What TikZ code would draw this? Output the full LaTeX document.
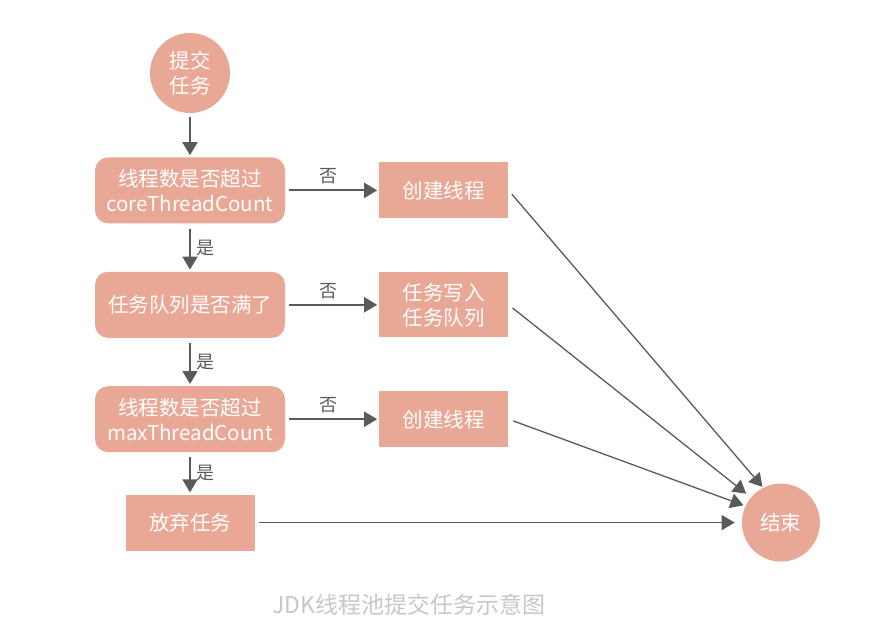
\documentclass[tikz,border=0pt]{standalone}
\usepackage{fontspec}
\usepackage{xcolor}
\usepackage{tikz}
\usetikzlibrary{arrows.meta,positioning}
\newfontfamily\cjk{Noto Sans CJK SC}
\definecolor{salmon}{RGB}{233,167,150}
\definecolor{arrowgray}{RGB}{90,90,90}

\begin{document}
\begin{tikzpicture}[x=1pt,y=-1pt,node distance=44pt and 94pt,
  every node/.style={font=\cjk\fontsize{20.5}{25}\selectfont,text=white},
  term/.style={circle,fill=salmon,minimum size=80pt,inner sep=0pt,align=center},
  cond/.style={fill=salmon,rounded corners=13pt,minimum width=190pt,minimum height=66pt,inner sep=2pt,align=center},
  act/.style={fill=salmon,minimum width=129pt,minimum height=56pt,inner sep=2pt,align=center},
  lbl/.style={text=arrowgray,font=\cjk\fontsize{18}{20}\selectfont},
  arr/.style={draw=arrowgray,line width=1.8pt,-{Triangle[length=13pt,width=15pt]}},
  fan/.style={draw=arrowgray,line width=1.3pt,-{Triangle[length=13pt,width=15pt]}}]
  \useasboundingbox (0,0) rectangle (877,628);
  \node[term] (start) at (190,73) {提交\\任务};
  \node[cond,below=of start] (core) {线程数是否超过\\coreThreadCount};
  \node[cond,below=48pt of core] (queue) {任务队列是否满了};
  \node[cond,below=48pt of queue] (max) {线程数是否超过\\maxThreadCount};
  \node[act,below=42pt of max] (reject) {放弃任务};
  \node[act,right=of core] (newcore) {创建线程};
  \node[act,minimum height=65pt,right=of queue] (enqueue) {任务写入\\任务队列};
  \node[act,right=of max] (newmax) {创建线程};
  \node[term,minimum size=78pt,right=487pt of reject] (end) {结束};
  \draw[arr,shorten <=4pt,shorten >=2pt] (start) -- (core);
  \draw[arr,shorten <=5pt,shorten >=2pt] (core) -- node[lbl,right,xshift=2pt] {是} (queue);
  \draw[arr,shorten <=5pt,shorten >=2pt] (queue) -- node[lbl,right,xshift=2pt] {是} (max);
  \draw[arr,shorten <=5pt,shorten >=2pt] (max) -- node[lbl,right,xshift=2pt] {是} (reject);
  \draw[arr,shorten <=4pt,shorten >=2pt] (core) -- node[lbl,above,yshift=2pt,xshift=-4pt] {否} (newcore);
  \draw[arr,shorten <=4pt,shorten >=2pt] (queue) -- node[lbl,above,yshift=2pt,xshift=-4pt] {否} (enqueue);
  \draw[arr,shorten <=4pt,shorten >=2pt] (max) -- node[lbl,above,yshift=2pt,xshift=-4pt] {否} (newmax);
  % all paths end here
  \draw[fan,shorten <=5pt,shorten >=1pt] (newcore.east) -- (end.117);
  \draw[fan,shorten <=5pt,shorten >=6pt] (enqueue.east) -- (end.140);
  \draw[fan,shorten <=5pt,shorten >=2pt] (newmax.east) -- (end.155);
  \draw[fan,shorten <=4pt,shorten >=7pt] (reject.east) -- (end.west);
  \node[text=black!22,font=\cjk\fontsize{23}{26}\selectfont] (caption) at (409,605) {JDK线程池提交任务示意图};
\end{tikzpicture}
\end{document}
